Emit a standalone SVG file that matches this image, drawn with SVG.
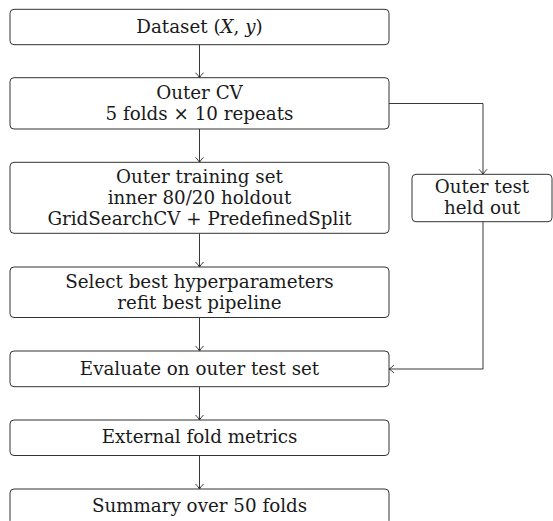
<svg xmlns="http://www.w3.org/2000/svg" width="553" height="521" viewBox="0 0 553 521">
<style>
.box{fill:#fff;stroke:#333;stroke-width:1}
.t{font-family:"DejaVu Serif","Liberation Serif",serif;font-size:18.3px;fill:#1a1a1a;text-anchor:middle}
.c{fill:none;stroke:#222;stroke-width:0.9}
</style>
<defs>
<marker id="arr" viewBox="-6 -5 7 10" refX="0" refY="0" markerWidth="7" markerHeight="10" markerUnits="userSpaceOnUse" orient="auto">
<path d="M-5,-4 Q-2,-1 0,0 Q-2,1 -5,4" fill="none" stroke="#222" stroke-width="0.9"/>
</marker>
</defs>
<rect width="553" height="521" fill="#fff"/>
<g id="connectors">
<line class="c" x1="199.5" y1="44.7" x2="199.5" y2="77.7" marker-end="url(#arr)"/>
<line class="c" x1="199.5" y1="129" x2="199.5" y2="162.3" marker-end="url(#arr)"/>
<line class="c" x1="199.5" y1="233.3" x2="199.5" y2="267" marker-end="url(#arr)"/>
<line class="c" x1="199.5" y1="317.5" x2="199.5" y2="351" marker-end="url(#arr)"/>
<line class="c" x1="199.5" y1="386.7" x2="199.5" y2="420" marker-end="url(#arr)"/>
<line class="c" x1="199.5" y1="455.5" x2="199.5" y2="489" marker-end="url(#arr)"/>
<polyline class="c" points="389,103.5 483,103.5 483,174.3" marker-end="url(#arr)"/>
<polyline class="c" points="483,221.7 483,369 389,369" marker-end="url(#arr)"/>
</g>
<g id="dataset">
<rect class="box" x="10" y="9.3" width="379" height="35.4" rx="4"/>
<text class="t" x="199.5" y="32.8">Dataset (<tspan font-style="italic">X</tspan>, <tspan font-style="italic">y</tspan>)</text>
</g>
<g id="outer-cv">
<rect class="box" x="10" y="77.7" width="379" height="51.3" rx="4"/>
<text class="t" x="199.5" y="98.5">Outer CV</text>
<text class="t" x="199.5" y="119.5">5 folds × 10 repeats</text>
</g>
<g id="outer-train">
<rect class="box" x="10" y="162.3" width="379" height="71" rx="4"/>
<text class="t" x="199.5" y="182.5">Outer training set</text>
<text class="t" x="199.5" y="203.5">inner 80/20 holdout</text>
<text class="t" x="199.5" y="224.5">GridSearchCV + PredefinedSplit</text>
</g>
<g id="outer-test">
<rect class="box" x="412" y="174.3" width="140" height="47.4" rx="4"/>
<text class="t" x="482" y="193">Outer test</text>
<text class="t" x="482" y="214">held out</text>
</g>
<g id="select">
<rect class="box" x="10" y="267" width="379" height="50.5" rx="4"/>
<text class="t" x="199.5" y="287.5">Select best hyperparameters</text>
<text class="t" x="199.5" y="308.5">refit best pipeline</text>
</g>
<g id="evaluate">
<rect class="box" x="10" y="351" width="379" height="35.7" rx="4"/>
<text class="t" x="199.5" y="374.5">Evaluate on outer test set</text>
</g>
<g id="external">
<rect class="box" x="10" y="420" width="379" height="35.5" rx="4"/>
<text class="t" x="199.5" y="443.3">External fold metrics</text>
</g>
<g id="summary">
<rect class="box" x="10" y="489" width="379" height="35.5" rx="4"/>
<text class="t" x="199.5" y="512.3">Summary over 50 folds</text>
</g>
</svg>
